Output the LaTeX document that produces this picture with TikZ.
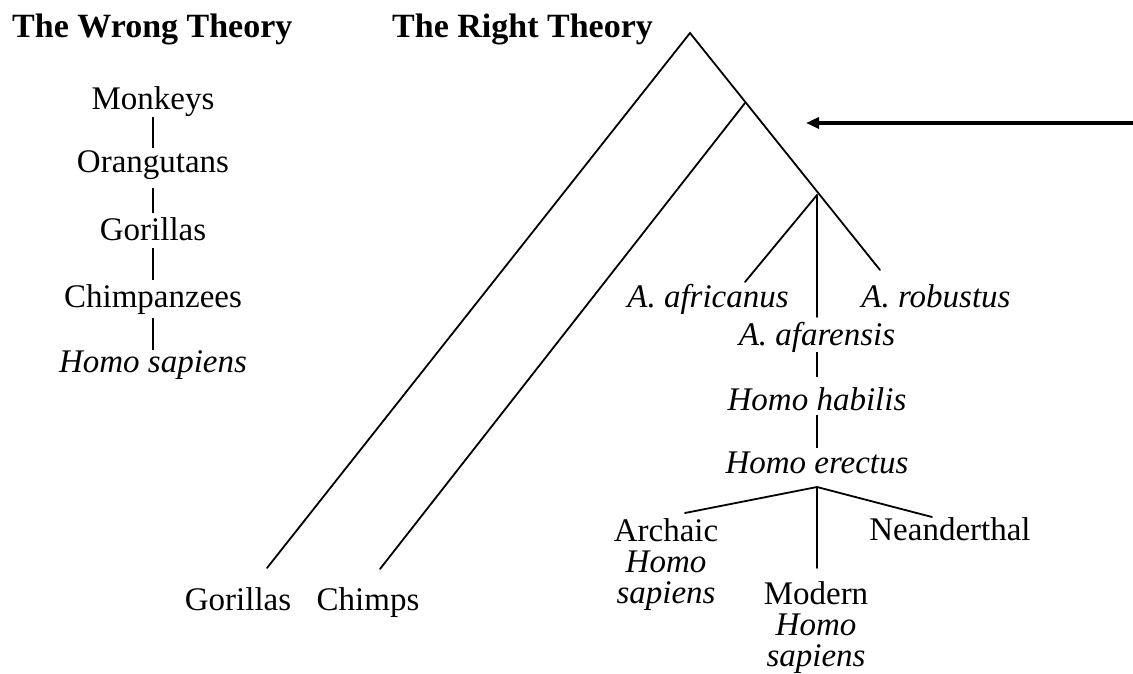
\documentclass[tikz,border=0pt]{standalone}
\usepackage{fontspec}
\setmainfont{Liberation Serif}
\usetikzlibrary{arrows.meta}
\begin{document}
\begin{tikzpicture}[x=1pt,y=-1pt,
  lbl/.style={inner sep=0pt, font=\fontsize{33}{31}\selectfont, align=center, anchor=base},
  stack/.style={inner sep=0pt, font=\fontsize{33}{31}\selectfont, align=center, anchor=north},
  ttl/.style={inner sep=0pt, font=\fontsize{34}{31}\selectfont\bfseries, anchor=base west},
  branch/.style={line width=1.8pt, line cap=round},
  bar/.style={line width=1.8pt},
  pointer/.style={line width=3.5pt, -{Triangle[length=13pt,width=11pt]}}
]
\useasboundingbox (0,0) rectangle (1133,674);
% titles
\node[ttl] (wrong) at (12,38) {The Wrong Theory};
\node[ttl] (right) at (392,38) {The Right Theory};
% wrong theory column
\node[lbl] (monkeys) at (153,110) {Monkeys};
\node[lbl] (orang) at (153,173) {Orangutans};
\node[lbl] (gor1) at (153,240) {Gorillas};
\node[lbl] (chimp1) at (153,307) {Chimpanzees};
\node[lbl] (homo1) at (153,372) {\itshape Homo sapiens};
\draw[bar] ([yshift=-7pt]monkeys.base) -- ([yshift=25pt]orang.base);
\draw[bar] ([yshift=-15pt]orang.base) -- ([yshift=27pt]gor1.base);
\draw[bar] ([yshift=-8pt]gor1.base) -- ([yshift=27pt]chimp1.base);
\draw[bar] ([yshift=-11pt]chimp1.base) -- ([yshift=22pt]homo1.base);
% right theory tree
\coordinate (root) at (690,33);
\coordinate (chimpnode) at (745,103);
\coordinate (homnode) at (817,195);
\coordinate (gorend) at (267,568);
\coordinate (chimpend) at (380,569);
\coordinate (robend) at (880,270);
\coordinate (afrend) at (745,282);
\coordinate (afarend) at (817,317);
\draw[branch] (gorend) -- (root) -- (robend);
\draw[branch] (chimpnode) -- (chimpend);
\draw[branch] (homnode) -- (afrend);
\draw[branch] (homnode) -- (afarend);
\node[lbl] (gor2) at (238,610) {Gorillas};
\node[lbl] (chimps) at (368,610) {Chimps};
\node[lbl] (afr) at (708,307) {\itshape A. africanus};
\node[lbl] (rob) at (936,307) {\itshape A. robustus};
\node[lbl] (afar) at (817,345) {\itshape A. afarensis};
\node[lbl] (habilis) at (817,410) {\itshape Homo habilis};
\node[lbl] (erectus) at (817,473) {\itshape Homo erectus};
\draw[bar] ([yshift=-7pt]afar.base) -- ([yshift=33pt]habilis.base);
\draw[bar] ([yshift=-5pt]habilis.base) -- ([yshift=25pt]erectus.base);
\coordinate (ernode) at (817,487);
\coordinate (arcend) at (685,513);
\coordinate (neanend) at (932,517);
\coordinate (modend) at (817,568);
\draw[branch] (arcend) -- (ernode) -- (neanend);
\draw[branch] (ernode) -- (modend);
\node[stack] (archaic) at (666,518) {Archaic\\\itshape Homo\\\itshape sapiens};
\node[lbl] (nean) at (950,540) {Neanderthal};
\node[stack] (modern) at (816,581) {Modern\\\itshape Homo\\\itshape sapiens};
% pointer arrow
\coordinate (arrowtail) at (1133,123);
\coordinate (arrowtip) at (806,123);
\draw[pointer] (arrowtail) -- (arrowtip);
\end{tikzpicture}
\end{document}
